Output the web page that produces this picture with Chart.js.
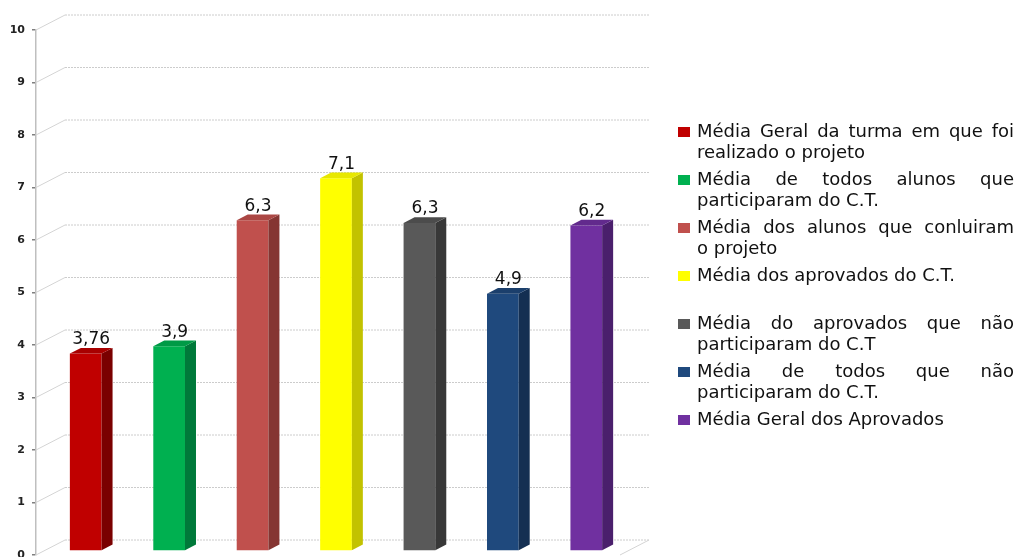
<!DOCTYPE html>
<html lang="pt">
<head>
<meta charset="utf-8">
<title>Médias</title>
<script src="https://cdn.jsdelivr.net/npm/chart.js@4.4.1/dist/chart.umd.min.js"></script>
<style>
  body { margin: 0; background: #fff; }
  #wrap { position: relative; width: 1016px; height: 557px; }
  #legend {
    position: absolute; left: 678px; top: 121px; width: 338px;
    font-family: "DejaVu Sans", sans-serif; font-size: 18px; line-height: 20.5px; color: #111;
  }
  .item { display: flex; margin-bottom: 7px; }
  .box { width: 12px; height: 10px; margin-top: 6px; flex: none; }
  .txt { width: 317px; margin-left: 7px; }
  .full { text-align: justify; text-align-last: justify; }
  .line { height: 20.5px; white-space: nowrap; }
</style>
</head>
<body>
<div id="wrap">
  <canvas id="chart"></canvas>
  <div id="legend"></div>
</div>
<script>
// data
const categories = [
  ['Média Geral da turma em que foi', 'realizado o projeto'],
  ['Média de todos alunos que', 'participaram do C.T.'],
  ['Média dos alunos que conluiram', 'o projeto'],
  ['Média dos aprovados do C.T.', ''],
  ['Média do aprovados que não', 'participaram do C.T'],
  ['Média de todos que não', 'participaram do C.T.'],
  ['Média Geral dos Aprovados']
];
const values = [3.76, 3.9, 6.3, 7.1, 6.25, 4.9, 6.2];
const valueLabels = ['3,76', '3,9', '6,3', '7,1', '6,3', '4,9', '6,2'];
const yTicks = [0, 1, 2, 3, 4, 5, 6, 7, 8, 9, 10];

const frontColors = ['#C00000', '#00B050', '#C0504D', '#FFFF00', '#595959', '#1F497D', '#7030A0'];
const sideColors = ['#7a0000', '#00793a', '#853532', '#c2c200', '#383838', '#142f52', '#4a1f6c'];
const topColors = ['#a80000', '#009a46', '#ab4744', '#e8e800', '#4c4c4c', '#1b3f6c', '#622a8d'];

// 3D depth of the floor/walls and of each bar
const WALL = { dx: 29, dy: -15 };
const BAR_SHIFT = { dx: 8, dy: -4 };
const BAR_DEPTH = { dx: 11, dy: -5.7 };

const wallPlugin = {
  id: 'wall3d',
  beforeDatasetsDraw(chart) {
    const { ctx, chartArea, scales } = chart;
    const y = scales.y;
    ctx.save();
    y.ticks.forEach(t => {
      const py = y.getPixelForValue(t.value);
      ctx.setLineDash([]);
      ctx.strokeStyle = '#d4d4d4';
      ctx.lineWidth = 1;
      ctx.beginPath();
      ctx.moveTo(chartArea.left, py);
      ctx.lineTo(chartArea.left + WALL.dx, py + WALL.dy);
      ctx.stroke();
      ctx.setLineDash([2, 1]);
      ctx.strokeStyle = '#cccccc';
      ctx.beginPath();
      ctx.moveTo(chartArea.left + WALL.dx, py + WALL.dy);
      ctx.lineTo(chartArea.right + WALL.dx, py + WALL.dy);
      ctx.stroke();
    });
    // right edge of the floor
    ctx.setLineDash([]);
    ctx.strokeStyle = '#d4d4d4';
    ctx.beginPath();
    ctx.moveTo(chartArea.right, chartArea.bottom);
    ctx.lineTo(chartArea.right + WALL.dx, chartArea.bottom + WALL.dy);
    ctx.stroke();
    ctx.restore();

    // bars sit half way into the depth
    ctx.save();
    ctx.translate(BAR_SHIFT.dx, BAR_SHIFT.dy);
  },
  afterDatasetsDraw(chart) {
    const { ctx } = chart;
    const meta = chart.getDatasetMeta(0);
    meta.data.forEach((bar, i) => {
      const p = bar.getProps(['x', 'y', 'base', 'width'], true);
      const l = p.x - p.width / 2, r = p.x + p.width / 2;
      // side
      ctx.fillStyle = sideColors[i];
      ctx.beginPath();
      ctx.moveTo(r, p.y);
      ctx.lineTo(r + BAR_DEPTH.dx, p.y + BAR_DEPTH.dy);
      ctx.lineTo(r + BAR_DEPTH.dx, p.base + BAR_DEPTH.dy);
      ctx.lineTo(r, p.base);
      ctx.closePath();
      ctx.fill();
      // top
      ctx.fillStyle = topColors[i];
      ctx.beginPath();
      ctx.moveTo(l, p.y);
      ctx.lineTo(l + BAR_DEPTH.dx, p.y + BAR_DEPTH.dy);
      ctx.lineTo(r + BAR_DEPTH.dx, p.y + BAR_DEPTH.dy);
      ctx.lineTo(r, p.y);
      ctx.closePath();
      ctx.fill();
      // value label
      ctx.fillStyle = '#111';
      ctx.font = '17px "DejaVu Sans"';
      ctx.textAlign = 'center';
      ctx.textBaseline = 'alphabetic';
      ctx.fillText(valueLabels[i], p.x + BAR_DEPTH.dx / 2, p.y + BAR_DEPTH.dy - 4);
    });
    ctx.restore();
  }
};

new Chart(document.getElementById('chart'), {
  type: 'bar',
  data: {
    labels: categories.map(c => c.join(' ')),
    datasets: [{
      data: values,
      backgroundColor: frontColors,
      borderWidth: 0,
      barPercentage: 0.38,
      categoryPercentage: 1,
      clip: false
    }]
  },
  options: {
    responsive: true,
    maintainAspectRatio: false,
    animation: false,
    layout: { padding: { top: 30, bottom: 2, left: 0, right: 396 } },
    plugins: { legend: { display: false }, tooltip: { enabled: false } },
    scales: {
      x: { display: false },
      y: {
        min: 0,
        max: 10,
        afterFit(scale) {
          scale.width = 36;
          scale.paddingTop = 0;
          scale.paddingBottom = 0;
        },
        afterBuildTicks(scale) { scale.ticks = yTicks.map(v => ({ value: v })); },
        border: { display: true, color: '#bfbfbf', width: 1.5 },
        grid: { drawOnChartArea: false, drawTicks: true, tickLength: 4, color: '#7f7f7f', lineWidth: 1.5 },
        ticks: {
          padding: 7,
          color: '#222',
          font: { family: 'DejaVu Sans', size: 11, weight: 'bold' }
        }
      }
    }
  },
  plugins: [wallPlugin]
});

// legend with justified lines
const legend = document.getElementById('legend');
categories.forEach((lines, i) => {
  const item = document.createElement('div');
  item.className = 'item';
  const box = document.createElement('div');
  box.className = 'box';
  box.style.background = frontColors[i];
  const txt = document.createElement('div');
  txt.className = 'txt';
  lines.forEach((line, j) => {
    const d = document.createElement('div');
    const wraps = j < lines.length - 1 && lines[j + 1] !== '';
    d.className = 'line' + (wraps ? ' full' : '');
    d.textContent = line;
    txt.appendChild(d);
  });
  item.appendChild(box);
  item.appendChild(txt);
  legend.appendChild(item);
});
</script>
</body>
</html>
